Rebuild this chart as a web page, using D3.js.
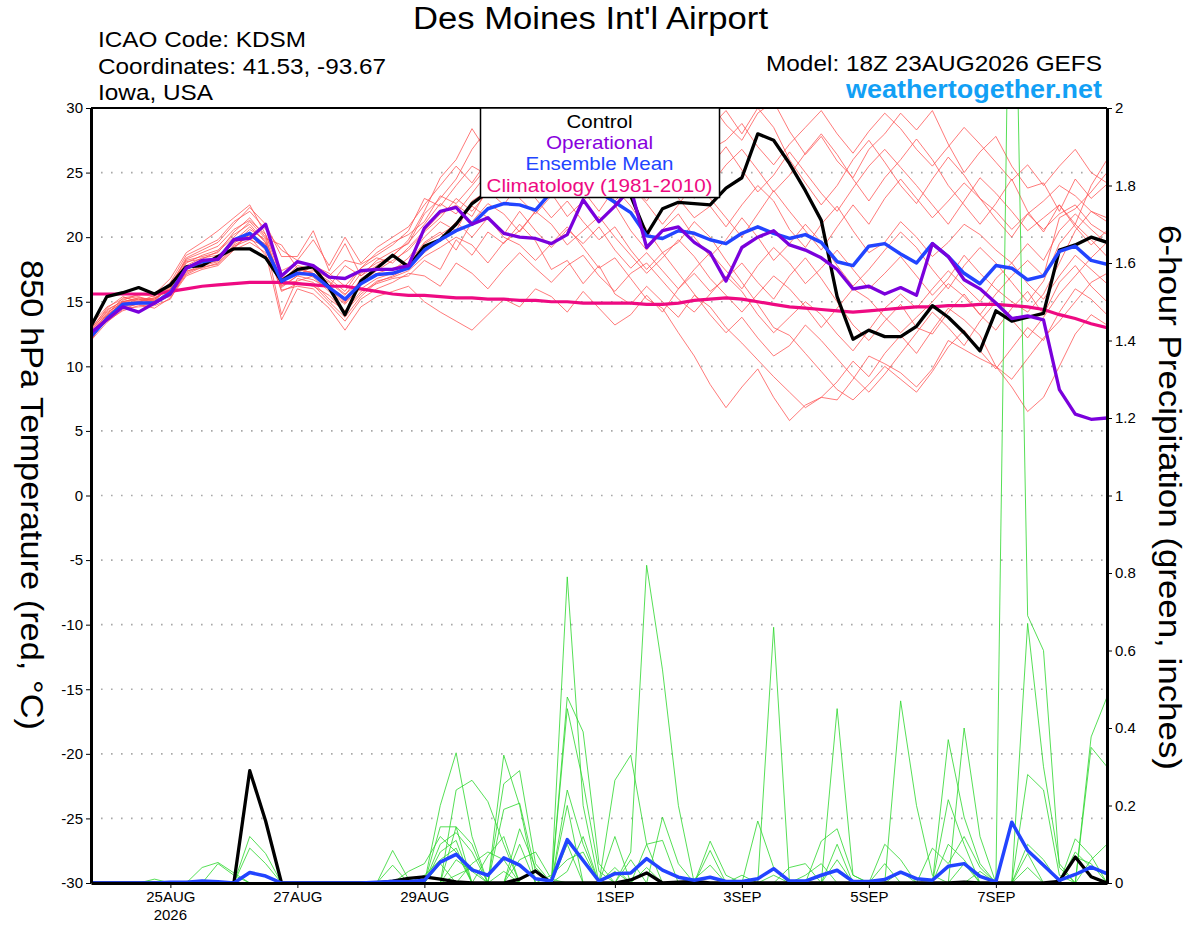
<!DOCTYPE html>
<html>
<head>
<meta charset="utf-8">
<script src="https://cdn.jsdelivr.net/npm/d3@7"></script>
<style>
  body { margin: 0; background: #fff; }
  svg { display: block; font-family: "Liberation Sans", Arial, sans-serif; }
</style>
</head>
<body>
<svg width="1200" height="927"></svg>
<script>
// GEFS run 18Z 23AUG2026, 6-hourly steps out to 384 h
const runStart = Date.UTC(2026, 7, 23, 18)
const stepHours = d3.range(0, 385, 6)

const tickDates = ['2026-08-25', '2026-08-27', '2026-08-29', '2026-09-01', '2026-09-03', '2026-09-05', '2026-09-07']
const tickLabels = ['25AUG', '27AUG', '29AUG', '1SEP', '3SEP', '5SEP', '7SEP']
const tempTicks = [-30, -25, -20, -15, -10, -5, 0, 5, 10, 15, 20, 25, 30]
const precipTicks = [0, 0.2, 0.4, 0.6, 0.8, 1, 1.2, 1.4, 1.6, 1.8, 2]

// 850 hPa temperature, deg C
const controlTemp = [13.1,15.4,15.7,16.1,15.6,16.3,17.7,17.8,18.5,19.1,19.1,18.4,
  16.6,17.5,17.7,16.1,14.0,16.6,17.6,18.6,17.7,
  19.3,19.8,21.0,22.6,23.5,23.2,23.8,24.5,24.8,25.0,
  24.5,24.0,23.5,23.2,20.2,22.2,22.7,22.6,22.5,23.8,
  24.6,28.0,27.5,25.7,23.6,21.3,15.4,12.1,12.8,12.3,
  12.3,13.1,14.7,13.8,12.6,11.2,14.3,13.5,13.8,14.1,
  19.0,19.4,20.0,19.6]
const operationalTemp = [12.6,13.6,14.6,14.2,14.9,15.6,17.6,18.2,18.3,19.8,19.9,21.0,
  17.0,18.1,17.8,16.9,16.8,17.4,17.5,17.5,17.8,
  20.7,22.0,22.3,21.0,21.5,20.3,20.0,19.9,19.5,20.2,
  22.9,21.2,22.4,23.8,19.2,20.5,20.8,19.6,18.8,16.6,
  19.2,20.0,20.5,19.4,19.0,18.4,17.5,16.0,16.2,15.6,
  16.1,15.5,19.5,18.5,16.7,16.0,14.9,13.7,13.9,13.6,
  8.2,6.3,5.9,6.0]
const meanTemp = [12.3,13.7,14.8,14.9,14.9,15.7,17.6,18.1,18.3,19.8,20.3,19.2,
  16.6,17.2,17.1,16.1,15.2,16.4,17.1,17.2,17.6,
  19.0,19.8,20.5,21.0,22.2,22.6,22.5,22.1,23.5,23.3,
  24.0,23.5,22.7,21.9,20.1,19.9,20.5,20.3,19.8,19.5,
  20.3,20.8,20.3,19.9,20.2,19.6,18.1,17.8,19.3,19.5,
  18.7,18.0,19.5,18.5,17.2,16.4,17.8,17.6,16.7,17.0,
  18.9,19.3,18.2,17.9]
const climoTemp = [15.6,15.6,15.6,15.6,15.6,15.8,16.0,16.2,16.3,16.4,16.5,16.5,
  16.5,16.4,16.3,16.2,16.2,16.0,15.8,15.6,15.5,
  15.5,15.4,15.3,15.3,15.2,15.2,15.1,15.1,15.0,15.0,
  14.9,14.9,14.9,14.9,14.8,14.8,14.9,15.1,15.2,15.3,
  15.2,15.0,14.8,14.6,14.5,14.4,14.3,14.2,14.3,14.4,
  14.5,14.6,14.6,14.7,14.7,14.8,14.8,14.7,14.6,14.4,
  14.0,13.7,13.3,13.0]

// ensemble members, 850 hPa temperature
const member01 = [12.0,13.9,15.0,15.3,15.1,16.2,18.4,19.0,19.6,21.0,22.3,21.0,
  18.5,18.5,20.5,17.4,19.5,17.0,18.2,18.9,19.5,
  21.8,23.0,24.5,26.8,28.4,27.0,28.3,29.5,30.2,28.8,
  29.7,28.1,26.5,27.4,25.0,26.2,28.0,29.3,30.4,28.7,
  27.5,29.6,30.5,28.2,26.4,27.8,25.9,24.6,26.8,28.0,
  29.6,28.3,29.8,27.2,25.0,26.6,27.8,25.5,23.8,24.2,
  22.0,24.5,23.0,24.1]
const member02 = [12.8,14.2,14.9,15.2,15.0,15.5,17.2,17.8,18.1,19.4,20.0,19.5,
  14.0,16.8,16.5,15.2,14.3,15.8,16.4,16.8,17.0,
  18.2,17.5,19.8,18.6,20.4,19.5,21.0,19.7,17.5,18.2,
  16.4,17.8,15.6,14.8,16.2,15.0,13.8,15.5,14.6,13.0,
  11.8,10.5,9.2,8.0,6.8,7.6,7.4,9.0,10.8,10.2,
  9.5,8.4,9.8,12.0,11.3,10.6,10.0,8.4,6.5,7.6,
  10.0,12.5,14.0,13.2]
const member03 = [12.5,14.0,15.3,15.5,15.6,16.8,18.8,19.6,20.5,21.5,22.5,20.2,
  16.8,17.5,17.2,16.5,15.5,17.2,18.0,18.5,19.8,
  22.0,24.6,26.0,28.4,26.5,24.2,25.8,27.0,25.5,26.8,
  28.0,27.2,25.6,24.0,22.8,24.5,23.0,21.5,22.4,20.8,
  22.5,24.0,22.8,20.6,19.2,21.0,22.4,20.5,18.8,19.6,
  21.2,20.0,18.5,19.6,21.0,20.2,19.0,18.0,19.5,18.2,
  20.5,21.8,20.6,19.5]
const member04 = [12.2,13.6,14.6,14.8,14.5,15.3,17.0,17.5,17.8,19.0,19.6,18.8,
  13.6,16.0,15.6,14.5,12.8,14.6,15.4,15.8,16.2,
  15.0,14.2,13.5,12.8,14.0,15.2,14.6,16.0,15.4,14.2,
  15.8,14.5,13.2,14.0,15.5,14.2,16.0,17.2,15.8,16.8,
  18.0,16.5,15.2,17.0,18.4,16.8,15.0,13.2,12.0,13.5,
  14.8,13.0,12.5,14.2,15.6,14.0,12.8,14.5,15.8,14.0,
  16.5,17.8,16.2,15.0]
const member05 = [12.9,14.5,15.4,15.0,15.2,16.0,18.0,18.6,19.0,20.2,21.0,19.6,
  16.5,17.8,17.5,16.8,15.8,17.6,18.4,18.0,19.2,
  20.5,21.8,22.5,21.6,23.8,25.2,24.0,25.6,27.0,26.2,
  24.8,26.5,28.2,27.0,25.5,23.8,25.0,26.4,28.5,29.8,
  28.0,30.0,28.5,26.0,24.2,22.5,24.0,26.0,27.5,25.8,
  24.0,22.6,24.5,26.2,24.8,23.0,21.4,20.0,21.8,20.6,
  21.8,22.5,21.0,20.2]
const member06 = [12.4,13.8,14.5,14.6,14.7,15.2,17.4,17.6,18.0,19.2,20.2,19.0,
  16.4,16.6,17.0,16.2,15.0,16.0,16.8,17.2,17.8,
  19.5,20.2,21.0,22.4,21.5,20.0,19.4,18.2,19.5,20.8,
  19.2,17.6,18.4,16.8,15.2,14.5,12.6,10.8,8.6,6.8,
  8.4,9.8,7.6,5.8,7.0,7.6,8.8,10.4,9.2,11.0,
  12.4,11.0,12.8,14.5,13.6,12.4,10.0,9.0,10.6,12.2,
  13.5,15.0,16.5,17.2]
const member07 = [12.0,13.4,14.4,14.9,15.0,16.4,18.2,18.5,18.8,20.4,21.5,20.0,
  16.2,17.0,17.8,17.0,18.2,17.9,18.6,19.4,20.5,
  23.0,22.4,24.0,25.5,24.8,26.5,27.6,26.0,28.0,29.5,
  30.2,29.0,27.5,25.8,27.0,28.5,27.2,25.5,24.0,25.6,
  26.8,25.2,23.5,24.8,26.5,28.0,26.4,24.5,22.8,24.6,
  26.0,27.6,26.0,24.0,22.5,21.0,22.6,24.5,22.0,20.4,
  22.5,21.0,24.0,26.0]
const member08 = [13.2,14.6,15.2,15.4,15.0,15.8,17.8,18.4,18.6,19.6,20.0,18.6,
  16.8,17.4,16.9,15.8,14.8,16.3,17.2,17.6,18.0,
  19.6,20.4,19.0,21.2,22.6,21.8,20.4,22.0,23.4,21.6,
  22.8,24.2,22.5,20.5,19.0,20.6,21.8,20.0,18.5,19.8,
  21.5,20.0,18.2,19.5,21.0,19.6,17.8,16.2,17.5,19.0,
  20.4,19.2,17.5,16.0,17.8,19.2,18.0,16.5,15.0,16.6,
  19.5,21.0,19.8,18.5]
const member09 = [12.6,14.0,14.8,15.1,15.3,15.9,17.5,18.2,18.4,19.5,20.6,19.8,
  16.6,17.2,17.4,16.6,15.6,16.5,17.4,18.2,19.0,
  20.4,21.5,23.0,22.0,23.5,24.6,23.0,21.8,23.2,24.8,
  23.6,22.0,23.8,22.4,20.6,18.8,19.6,21.2,20.0,18.2,
  16.5,14.8,13.0,12.4,11.0,9.6,8.2,7.4,8.6,10.0,
  9.0,8.0,9.6,11.5,12.8,11.2,9.8,11.4,13.0,12.0,
  14.2,16.0,15.2,14.0]
const member10 = [12.3,13.5,14.3,14.7,14.8,15.6,17.3,17.9,18.2,19.3,19.8,19.3,
  15.9,16.2,16.0,14.8,13.5,15.2,16.0,16.5,17.2,
  17.0,16.2,18.0,17.2,16.0,17.5,18.8,17.6,16.5,17.8,
  18.6,17.0,15.8,17.2,18.0,16.6,15.2,14.2,15.6,17.0,
  15.8,14.0,12.6,13.8,15.0,14.0,12.5,11.2,12.8,14.5,
  15.6,14.5,16.0,17.4,16.2,15.0,16.8,18.0,16.4,15.2,
  17.0,18.6,17.5,16.4]
const member11 = [12.7,14.3,15.1,15.6,15.4,16.5,18.6,19.2,19.8,21.2,22.0,20.6,
  19.0,18.2,19.8,17.8,20.0,18.0,19.2,20.0,20.8,
  22.5,24.0,25.5,24.2,26.0,27.5,28.8,30.3,29.0,27.2,
  26.0,24.5,22.8,24.0,22.6,21.0,22.5,24.2,23.0,21.5,
  20.0,21.8,23.6,22.0,20.5,19.0,20.8,22.5,21.0,23.0,
  24.5,23.0,21.5,22.8,24.2,23.0,22.0,20.6,21.8,22.8,
  24.0,23.2,22.0,21.5]
const member12 = [12.1,13.7,14.7,14.9,15.1,15.4,17.1,17.7,17.9,19.1,20.4,19.4,
  16.3,16.5,16.2,15.5,14.2,15.6,16.6,16.9,17.4,
  18.5,19.2,20.0,19.4,18.0,19.6,20.5,22.0,21.0,19.4,
  20.5,21.6,20.0,18.6,17.2,18.4,19.8,18.5,16.8,15.5,
  14.2,15.6,17.0,16.0,14.6,13.0,14.5,16.0,15.2,13.8,
  12.6,13.8,15.0,16.4,15.4,14.0,15.6,17.0,18.2,17.0,
  21.5,22.2,23.5,25.0]
const member13 = [12.6,14.1,15.0,15.2,14.9,16.0,18.1,18.3,18.9,20.0,21.2,19.9,
  19.4,17.6,17.2,16.2,17.8,17.0,17.8,18.6,19.6,
  21.0,22.6,21.8,23.4,25.0,24.2,26.0,25.2,26.8,27.8,
  26.4,27.6,29.0,28.2,26.8,28.0,29.5,28.4,26.8,27.5,
  28.8,27.0,25.6,27.2,28.5,29.8,28.0,26.5,28.2,29.6,
  28.4,26.8,25.5,27.0,28.5,27.2,25.8,24.4,25.6,24.0,
  25.5,26.8,25.0,24.2]
const member14 = [12.4,13.9,14.9,15.0,15.5,15.8,17.7,18.0,18.5,19.7,20.8,19.6,
  16.1,17.0,16.7,16.0,14.9,16.8,17.6,17.4,18.4,
  20.0,21.2,20.5,22.8,23.6,22.5,24.2,23.0,21.5,22.8,
  21.2,19.8,20.8,19.0,17.5,18.8,17.2,15.6,14.0,12.6,
  13.8,12.2,10.8,11.6,13.2,12.0,10.6,9.2,8.0,9.4,
  11.0,12.6,14.2,13.0,11.6,13.5,15.0,13.6,12.2,13.8,
  15.6,17.0,18.4,19.6]
const member15 = [12.9,14.4,15.0,15.3,15.2,16.1,18.3,18.8,19.3,20.6,21.3,20.2,
  17.4,18.0,17.8,17.2,16.2,17.6,18.8,19.6,20.2,
  21.2,23.2,22.6,24.0,25.5,27.0,25.8,24.6,26.2,25.0,
  27.5,26.2,24.6,23.2,24.5,26.0,24.5,23.0,25.5,27.0,
  25.2,23.5,24.8,26.6,25.0,23.4,22.0,23.8,25.5,26.8,
  25.4,24.0,22.5,21.0,22.8,24.6,23.4,22.0,20.5,21.5,
  22.5,20.8,19.4,20.5]
const member16 = [12.2,13.6,14.6,15.0,15.3,16.0,17.6,17.9,18.2,19.8,20.1,19.3,
  15.8,16.4,16.3,15.0,13.8,15.4,16.5,17.0,17.6,
  18.8,19.8,21.2,20.0,21.5,20.2,22.0,20.5,19.2,20.6,
  19.5,20.8,19.0,17.6,18.8,17.4,16.0,17.5,18.8,17.4,
  16.0,17.8,19.2,18.0,16.4,17.6,19.0,17.5,16.0,17.2,
  18.5,17.0,15.5,16.8,18.6,17.2,16.0,15.0,14.2,15.6,
  18.0,20.5,22.0,21.2]

// 6-hour precipitation, inches
const controlPrecip = [0,0,0,0,0,0,0,0,0,0,0.29,0.16,
  0,0,0,0,0,0,0,0.005,0.012,
  0.016,0.01,0.003,0,0,0,0.01,0.031,0,0,
  0,0,0,0.008,0.026,0,0.002,0.004,0,0,
  0,0,0,0,0,0,0,0,0,0,
  0,0,0,0,0.002,0,0,0,0,0,
  0.004,0.067,0.016,0]
const meanPrecip = [0,0,0,0,0,0.002,0.002,0.005,0.003,0,0.027,0.018,
  0,0,0,0,0,0,0.002,0.004,0.003,
  0.007,0.054,0.074,0.034,0.02,0.065,0.046,0.011,0.005,0.112,
  0.058,0.005,0.024,0.026,0.063,0.033,0.015,0.007,0.015,0.004,
  0.004,0.011,0.037,0.005,0.005,0.02,0.033,0.004,0.004,0.009,
  0.028,0.011,0.007,0.043,0.05,0.017,0.003,0.157,0.084,0.046,
  0.007,0.022,0.041,0.024]

// ensemble members, precipitation: [step, inches]; other steps are dry
const precipMember01 = [[8,0.05],[9,0.02],[22,0.2],[23,0.336],[24,0.12],[30,0.79],[31,0.2],[43,0.66],[58,2.9],[59,0.69],[60,0.6],[61,0.04]]
const precipMember02 = [[10,0.12],[11,0.076],[23,0.24],[24,0.265],[25,0.21],[26,0.1],[34,0.08],[35,0.82],[36,0.55],[37,0.2],[55,0.4],[56,0.12],[63,0.377],[64,0.48]]
const precipMember03 = [[7,0.04],[8,0.053],[9,0.026],[26,0.33],[27,0.2],[30,0.48],[31,0.39],[32,0.05],[47,0.45],[48,0.02],[59,0.67],[60,0.3],[61,0.05]]
const precipMember04 = [[19,0.084],[20,0.01],[23,0.145],[26,0.256],[27,0.29],[28,0.05],[30,0.45],[31,0.26],[32,0.03],[51,0.47],[52,0.2],[53,0.02],[63,0.35],[64,0.3]]
const precipMember05 = [[19,0.046],[22,0.145],[23,0.145],[24,0.1],[26,0.19],[27,0.206],[28,0.03],[33,0.265],[34,0.33],[35,0.1],[54,0.37],[55,0.17],[56,0.05],[62,0.114],[63,0.07]]
const precipMember06 = [[22,0.1],[23,0.13],[24,0.08],[27,0.1],[30,0.24],[31,0.1],[33,0.12],[36,0.17],[37,0.05],[39,0.108],[40,0.02],[54,0.215],[55,0.1],[59,0.28],[60,0.24],[61,0.02]]
const precipMember07 = [[22,0.08],[23,0.11],[25,0.07],[26,0.12],[30,0.2],[35,0.1],[36,0.11],[42,0.16],[43,0.04],[46,0.108],[47,0.14],[48,0.02],[59,0.076]]
const precipMember08 = [[4,0.01],[21,0.02],[22,0.06],[23,0.09],[27,0.14],[28,0.04],[39,0.084],[47,0.1],[50,0.1],[51,0.06],[56,0.03],[62,0.067],[63,0.05]]
const precipMember09 = [[22,0.05],[24,0.05],[25,0.08],[26,0.06],[29,0.02],[30,0.06],[31,0.08],[38,0.01],[39,0.046],[45,0.02],[46,0.05],[53,0.09],[54,0.05],[55,0.12],[56,0.04]]
const precipMember10 = [[10,0.09],[11,0.05],[23,0.06],[24,0.03],[27,0.06],[28,0.08],[29,0.01],[33,0.04],[35,0.04],[44,0.04],[45,0.05],[51,0.03],[62,0.08],[63,0.04],[64,0.02]]
const precipMember11 = [[20,0.03],[21,0.05],[22,0.12],[23,0.08],[30,0.03],[31,0.12],[34,0.06],[41,0.02],[47,0.06],[54,0.1],[55,0.06],[59,0.04],[63,0.06],[64,0.1]]
const precipMember12 = [[23,0.02],[24,0.04],[26,0.03],[30,0.1],[33,0.03],[43,0.02],[50,0.05],[55,0.05],[59,0.1],[60,0.06]]

const tempMembers = [member01, member02, member03, member04, member05, member06, member07, member08,
  member09, member10, member11, member12, member13, member14, member15, member16]
const precipMembers = [precipMember01, precipMember02, precipMember03, precipMember04, precipMember05, precipMember06,
  precipMember07, precipMember08, precipMember09, precipMember10, precipMember11, precipMember12]
  .map(pairs => {
    const s = stepHours.map(() => 0)
    pairs.forEach(([k, v]) => { s[k] = v })
    return s
  })

const times = stepHours.map(h => new Date(runStart + h * 3600e3))

const svg = d3.select('svg')
const plotLeft = 91, plotRight = 1107, plotTop = 108, plotBottom = 883

const x = d3.scaleUtc().domain([times[0], times[times.length - 1]]).range([plotLeft, plotRight])
const yT = d3.scaleLinear().domain([-30, 30]).range([plotBottom, plotTop])
const yP = d3.scaleLinear().domain([0, 2]).range([plotBottom, plotTop])

svg.append('defs').append('clipPath').attr('id', 'plot')
  .append('rect').attr('x', plotLeft).attr('y', plotTop)
  .attr('width', plotRight - plotLeft).attr('height', plotBottom - plotTop)

// dotted grid
svg.append('g').selectAll('line')
  .data(tempTicks.filter(t => t > -30 && t < 30))
  .join('line')
  .attr('x1', plotLeft).attr('x2', plotRight)
  .attr('y1', d => yT(d)).attr('y2', d => yT(d))
  .attr('stroke', '#a8a8a8').attr('stroke-width', 1.6).attr('stroke-dasharray', '1.6,8.4')

const plot = svg.append('g').attr('clip-path', 'url(#plot)')
const tLine = d3.line().x((d, i) => x(times[i])).y(d => yT(d))
const pLine = d3.line().x((d, i) => x(times[i])).y(d => yP(d))

plot.append('g').selectAll('path').data(tempMembers).join('path')
  .attr('d', tLine).attr('fill', 'none').attr('stroke', '#ff5050').attr('stroke-width', 0.9).attr('stroke-opacity', 0.85)
plot.append('g').selectAll('path').data(precipMembers).join('path')
  .attr('d', pLine).attr('fill', 'none').attr('stroke', '#2ed82e').attr('stroke-width', 0.9).attr('stroke-opacity', 0.9)

plot.append('path').datum(climoTemp).attr('d', tLine)
  .attr('fill', 'none').attr('stroke', '#ee0a82').attr('stroke-width', 3.2)
plot.append('path').datum(controlTemp).attr('d', tLine)
  .attr('fill', 'none').attr('stroke', '#000').attr('stroke-width', 3.3).attr('stroke-linejoin', 'round')
plot.append('path').datum(meanTemp).attr('d', tLine)
  .attr('fill', 'none').attr('stroke', '#2244ff').attr('stroke-width', 3.5).attr('stroke-linejoin', 'round')
plot.append('path').datum(operationalTemp).attr('d', tLine)
  .attr('fill', 'none').attr('stroke', '#7a00dc').attr('stroke-width', 3.3).attr('stroke-linejoin', 'round')
plot.append('path').datum(controlPrecip).attr('d', pLine)
  .attr('fill', 'none').attr('stroke', '#000').attr('stroke-width', 3.3).attr('stroke-linejoin', 'round')
plot.append('path').datum(meanPrecip).attr('d', pLine)
  .attr('fill', 'none').attr('stroke', '#2244ff').attr('stroke-width', 3.5).attr('stroke-linejoin', 'round')

// frame and axes
svg.append('line').attr('x1', plotLeft).attr('x2', plotRight).attr('y1', plotTop).attr('y2', plotTop)
  .attr('stroke', '#000').attr('stroke-width', 2)

const xAxis = svg.append('g').attr('transform', `translate(0,${plotBottom})`)
  .call(d3.axisBottom(x).tickValues(tickDates.map(d => new Date(d + 'T00:00Z')))
    .tickFormat((d, i) => tickLabels[i]).tickSize(5).tickSizeOuter(0).tickPadding(3))
const yAxisL = svg.append('g').attr('transform', `translate(${plotLeft},0)`)
  .call(d3.axisLeft(yT).tickValues(tempTicks).tickFormat(d => String(d)).tickSize(5).tickSizeOuter(0).tickPadding(3))
const yAxisR = svg.append('g').attr('transform', `translate(${plotRight},0)`)
  .call(d3.axisRight(yP).tickValues(precipTicks).tickFormat(d => d3.format('~g')(d)).tickSize(5).tickSizeOuter(0).tickPadding(3))

for (const g of [xAxis, yAxisL, yAxisR]) {
  g.attr('font-family', null).attr('font-size', null)
  g.select('.domain').attr('stroke-width', 3)
  g.selectAll('.tick line').attr('stroke-width', 1)
  g.selectAll('.tick text').attr('font-size', 15).attr('fill', '#000')
}

svg.append('text').attr('x', x(new Date('2026-08-25T00:00Z'))).attr('y', 920)
  .attr('text-anchor', 'middle').attr('font-size', 15).text('2026')

// legend
const legendBox = svg.append('g')
legendBox.append('rect').attr('x', 480.5).attr('y', plotTop).attr('width', 239).attr('height', 89.5)
  .attr('fill', '#fff').attr('stroke', '#000').attr('stroke-width', 1.5)
const legendItems = [['Control', '#000', 66], ['Operational', '#8800dd', 107],
  ['Ensemble Mean', '#2244ff', 148], ['Climatology (1981-2010)', '#ee0a82', 226]]
legendBox.selectAll('text').data(legendItems).join('text')
  .attr('x', 599.5).attr('y', (d, i) => 127.5 + i * 21.4)
  .attr('text-anchor', 'middle').attr('font-size', 19)
  .attr('textLength', d => d[2]).attr('lengthAdjust', 'spacingAndGlyphs')
  .attr('fill', d => d[1]).text(d => d[0])

// titles
svg.append('text').attr('x', 590.5).attr('y', 29).attr('text-anchor', 'middle').attr('font-size', 31)
  .attr('textLength', 355).attr('lengthAdjust', 'spacingAndGlyphs')
  .text("Des Moines Int'l Airport")
const info = [['ICAO Code: KDSM', 208], ['Coordinates: 41.53, -93.67', 288], ['Iowa, USA', 115]]
svg.append('g').selectAll('text').data(info).join('text')
  .attr('x', 98).attr('y', (d, i) => 47 + i * 26.6).attr('font-size', 22)
  .attr('textLength', d => d[1]).attr('lengthAdjust', 'spacingAndGlyphs').text(d => d[0])
svg.append('text').attr('x', 1102).attr('y', 71).attr('text-anchor', 'end').attr('font-size', 22)
  .attr('textLength', 336).attr('lengthAdjust', 'spacingAndGlyphs')
  .text('Model: 18Z 23AUG2026 GEFS')
svg.append('text').attr('x', 1102).attr('y', 97.5).attr('text-anchor', 'end').attr('font-size', 25)
  .attr('textLength', 256).attr('lengthAdjust', 'spacingAndGlyphs')
  .attr('font-weight', 'bold').attr('fill', '#12a0f5').text('weathertogether.net')

svg.append('text').attr('transform', 'translate(21,495) rotate(90)').attr('text-anchor', 'middle')
  .attr('font-size', 31).attr('textLength', 470).attr('lengthAdjust', 'spacingAndGlyphs')
  .text('850 hPa Temperature (red, °C)')
svg.append('text').attr('transform', 'translate(1159,497.5) rotate(90)').attr('text-anchor', 'middle')
  .attr('font-size', 31).attr('textLength', 545).attr('lengthAdjust', 'spacingAndGlyphs')
  .text('6-hour Precipitation (green, inches)')
</script>
</body>
</html>
